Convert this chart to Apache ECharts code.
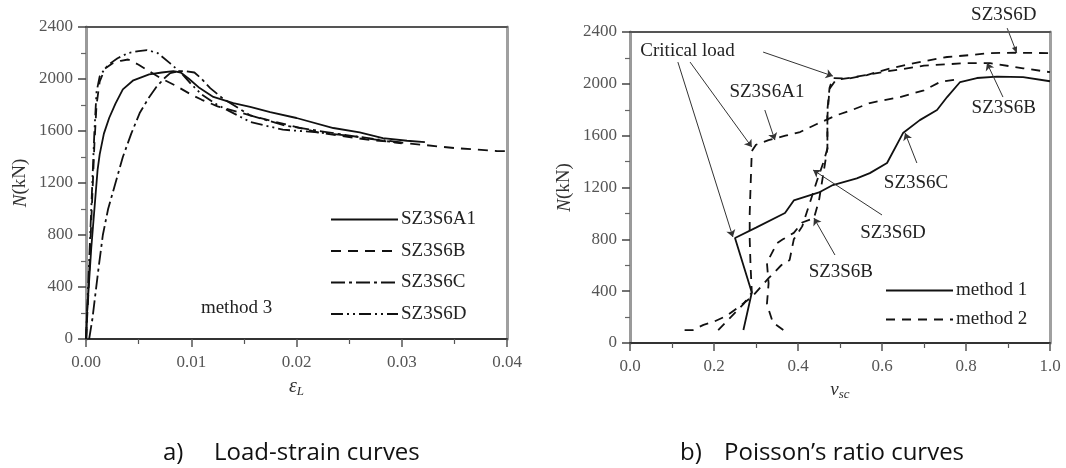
<!DOCTYPE html>
<html><head><meta charset="utf-8">
<script src="https://cdn.jsdelivr.net/npm/echarts@6/dist/echarts.min.js"></script>
<style>html,body{margin:0;padding:0;background:#fff}#c{width:1066px;height:468px}</style>
</head><body><div id="c"></div>
<script>
// ---- (a) Load-strain curves ----
const strainA1 = [0,0.0001,0.0003,0.0005,0.0007,0.0009,0.0011,0.0013,0.0017,0.0022,0.0028,0.0035,0.0045,0.006,0.0072,0.0083,0.009,0.0098,0.0108,0.0121,0.014,0.0156,0.0175,0.02,0.0235,0.026,0.0282,0.0305,0.0322];
const loadA1   = [0,200,450,700,900,1100,1300,1420,1580,1700,1810,1920,1990,2035,2050,2060,2050,2000,1930,1862,1815,1785,1746,1700,1623,1590,1546,1525,1515];
const strainB = [0,0.0002,0.0004,0.0006,0.0008,0.001,0.0013,0.0018,0.0025,0.0033,0.004,0.005,0.006,0.007,0.0085,0.01,0.011,0.0125,0.0156,0.019,0.022,0.027,0.03,0.035,0.039,0.04];
const loadB   = [0,300,700,1100,1500,1800,1980,2080,2120,2140,2150,2110,2060,2010,1950,1880,1840,1790,1720,1650,1590,1530,1510,1469,1446,1445];
const strainC = [0.0003,0.0006,0.0009,0.0012,0.0016,0.0021,0.0028,0.0035,0.0043,0.0051,0.006,0.0067,0.0075,0.008,0.0088,0.0095,0.0103,0.011,0.0118,0.013,0.0156,0.019,0.023,0.027,0.03];
const loadC   = [0,150,350,550,800,1000,1200,1400,1580,1738,1860,1940,2010,2045,2060,2060,2050,2000,1930,1850,1720,1640,1590,1540,1505];
const strainD = [0,0.0002,0.0004,0.0006,0.0008,0.001,0.0013,0.0018,0.0023,0.003,0.004,0.005,0.0058,0.0068,0.008,0.009,0.01,0.011,0.0125,0.0156,0.0187,0.022,0.026,0.03];
const loadD   = [0,400,800,1200,1600,1900,2020,2080,2120,2160,2200,2215,2222,2200,2120,2050,1960,1880,1800,1670,1610,1590,1555,1510];

// ---- (b) Poisson's ratio curves ----
const vM1 = [0.27,0.29,0.25,0.30,0.369,0.39,0.452,0.483,0.54,0.571,0.612,0.65,0.69,0.731,0.755,0.786,0.826,0.874,0.936,1.0];
const nM1 = [100,390,810,890,1003,1100,1165,1219,1270,1311,1389,1620,1720,1798,1898,2014,2045,2055,2052,2020];
const vA1m2 = [0.21,0.24,0.27,0.29,0.287,0.285,0.285,0.287,0.29,0.30,0.33,0.37,0.405,0.445,0.493,0.53,0.571,0.643,0.70,0.738,0.78];
const nA1m2 = [100,200,300,390,600,800,1000,1200,1480,1530,1566,1600,1628,1690,1759,1800,1852,1898,1950,2014,2035];
const vBm2 = [0.365,0.34,0.326,0.33,0.326,0.35,0.364,0.39,0.41,0.438,0.45,0.46,0.47,0.47,0.475,0.49,0.53,0.6,0.7,0.8,0.857,0.936,1.0];
const nBm2 = [100,160,300,460,620,770,800,850,930,964,1100,1300,1500,1750,1960,2030,2050,2090,2140,2160,2160,2120,2090];
const vDm2 = [0.13,0.15,0.175,0.2,0.23,0.26,0.29,0.33,0.36,0.38,0.39,0.41,0.43,0.445,0.46,0.47,0.47,0.475,0.483,0.52,0.564,0.62,0.7,0.755,0.81,0.857,0.92,1.0];
const nDm2 = [100,100,140,165,210,280,355,500,600,640,800,900,1100,1250,1390,1500,1800,1967,2045,2040,2068,2120,2175,2207,2222,2237,2240,2237];

// annotations (data coordinates of panel b)
const labelsB = [
  {text:'Critical load', at:[0.137,2253]},
  {text:'SZ3S6A1', at:[0.326,1937]},
  {text:'SZ3S6B', at:[0.89,1813]},
  {text:'SZ3S6C', at:[0.681,1235]},
  {text:'SZ3S6D', at:[0.626,849]},
  {text:'SZ3S6B', at:[0.502,548]}
];
const arrowsB = [
  [[0.114,2168],[0.245,818]],
  [[0.143,2168],[0.29,1512]],
  [[0.317,2245],[0.483,2060]],
  [[0.321,1798],[0.345,1566]],
  [[0.888,1898],[0.85,2160]],
  [[0.683,1389],[0.655,1620]],
  [[0.60,988],[0.436,1335]],
  [[0.488,679],[0.438,964]]
];
// label + arrow above the plot top (drawn as graphic, positioned through convertToPixel)
const topLabelB = {text:'SZ3S6D', at:[0.89,2531], from:[0.898,2430], to:[0.921,2237]};

const zip = (a,b)=>a.map((v,i)=>[v,b[i]]);
const SERIF = 'Liberation Serif';
const CAP = '24px "Open Sans", sans-serif';
const tickLblY = {fontFamily:SERIF, fontSize:17, color:'#555', margin:13, formatter:v=>String(v)};

function yAx(grid){
  return {type:'value', gridIndex:grid, min:0, max:2400, interval:400, position:'left',
    axisLine:{show:true, onZero:false, lineStyle:{color:'#9a9a9a', width:3}},
    axisTick:{show:true, length:8, lineStyle:{color:'#444', width:1.5}},
    minorTick:{show:true, splitNumber:2, length:5, lineStyle:{color:'#666', width:1.2}},
    splitLine:{show:false}, axisLabel:tickLblY,
    name:'{i|N}(kN)', nameLocation:'middle', nameGap:56,
    nameTextStyle:{fontFamily:SERIF, fontSize:19, color:'#333', rich:{i:{fontFamily:SERIF, fontSize:19, fontStyle:'italic', color:'#333'}}}
  };
}
function frameX(grid){return {type:'value', gridIndex:grid, position:'top', min:0, max:1,
  axisLine:{show:true, onZero:false, lineStyle:{color:'#555', width:2}}, axisTick:{show:false}, axisLabel:{show:false}, splitLine:{show:false}};}
function frameY(grid){return {type:'value', gridIndex:grid, position:'right', min:0, max:1,
  axisLine:{show:true, onZero:false, lineStyle:{color:'#a0a0a0', width:3}}, axisTick:{show:false}, axisLabel:{show:false}, splitLine:{show:false}};}
function xAx(grid, min, max, interval, dec, nameStr, rich, gap){
  return {type:'value', gridIndex:grid, min, max, interval, position:'bottom',
    axisLine:{show:true, onZero:false, lineStyle:{color:'#333', width:2}},
    axisTick:{show:true, length:8, lineStyle:{color:'#555', width:1.5}},
    minorTick:{show:true, splitNumber:2, length:5, lineStyle:{color:'#555', width:1.2}},
    splitLine:{show:false},
    axisLabel:{fontFamily:SERIF, fontSize:17, color:'#555', margin:15, formatter:v=>v.toFixed(dec), showMaxLabel:true},
    name:nameStr, nameLocation:'middle', nameGap:gap, nameTextStyle:{rich}
  };
}

function line(name, data, xi, yi, type, extra){
  return Object.assign({type:'line', name, data, xAxisIndex:xi, yAxisIndex:yi, symbol:'none', showSymbol:false,
    smooth:false, animation:false, silent:true,
    lineStyle:{color:'#111', width:1.8, type:type}, itemStyle:{color:'#111'}}, extra||{});
}
const legendCommon = {orient:'vertical', itemWidth:67, itemHeight:12, padding:0, selectedMode:false,
  itemStyle:{opacity:0, borderWidth:0}, textStyle:{fontFamily:SERIF, fontSize:19, color:'#222', padding:[0,0,0,-2]}};

const chart = echarts.init(document.getElementById('c'), null, {renderer:'canvas'});
chart.setOption({
  animation:false,
  backgroundColor:'#fff',
  grid:[
    {left:86, top:27, width:421, height:312},
    {left:630, top:32, width:420, height:311}
  ],
  xAxis:[
    xAx(0, 0, 0.04, 0.01, 2, '{e|ε}{s|L}', {e:{fontFamily:SERIF, fontSize:20, fontStyle:'italic', color:'#333'}, s:{fontFamily:SERIF, fontSize:13, fontStyle:'italic', color:'#333', padding:[10,0,0,0]}}, 36),
    frameX(0),
    xAx(1, 0, 1, 0.2, 1, '{v|v}{s|sc}', {v:{fontFamily:SERIF, fontSize:19, fontStyle:'italic', color:'#333'}, s:{fontFamily:SERIF, fontSize:13, fontStyle:'italic', color:'#333', padding:[10,0,0,0]}}, 35),
    frameX(1)
  ],
  yAxis:[yAx(0), frameY(0), yAx(1), frameY(1)],
  legend:[
    Object.assign({data:['SZ3S6A1','SZ3S6B','SZ3S6C','SZ3S6D'], left:330, top:210, itemGap:12.5}, legendCommon),
    Object.assign({data:['method 1','method 2'], left:885, top:281, itemGap:10}, legendCommon)
  ],
  series:[
    line('SZ3S6A1', zip(strainA1, loadA1), 0, 0, 'solid', {
      markPoint:{silent:true, symbol:'rect', symbolSize:1, itemStyle:{color:'rgba(0,0,0,0)'},
        label:{show:true, position:'inside', formatter:p=>p.name, fontFamily:SERIF, fontSize:19, color:'#222'},
        data:[{name:'method 3', coord:[0.0143,238]}]}
    }),
    line('SZ3S6B', zip(strainB, loadB), 0, 0, [10,7]),
    line('SZ3S6C', zip(strainC, loadC), 0, 0, [14,4,3,4]),
    line('SZ3S6D', zip(strainD, loadD), 0, 0, [12,4,2,4,2,4]),
    line('method 1', zip(vM1, nM1), 2, 2, 'solid', {
      markPoint:{silent:true, symbol:'rect', symbolSize:1, itemStyle:{color:'rgba(0,0,0,0)'},
        label:{show:true, position:'inside', formatter:p=>p.name, fontFamily:SERIF, fontSize:19, color:'#222'},
        data:labelsB.map(l=>({name:l.text, coord:l.at}))},
      markLine:{silent:true, symbol:['none','arrow'], symbolSize:7, label:{show:false},
        lineStyle:{color:'#333', width:1, type:'solid'},
        data:arrowsB.map(a=>[{coord:a[0]},{coord:a[1]}])}
    }),
    line('method 2', zip(vA1m2, nA1m2), 2, 2, [9,7]),
    line('method 2', zip(vBm2, nBm2), 2, 2, [9,7]),
    line('method 2', zip(vDm2, nDm2), 2, 2, [9,7])
  ],
  graphic:[
    {id:'capA1', type:'text', left:163, top:441, style:{text:'a)', font:CAP, fill:'#111'}},
    {id:'capA2', type:'text', left:214, top:441, style:{text:'Load-strain curves', font:CAP, fill:'#111'}},
    {id:'capB1', type:'text', left:680, top:441, style:{text:'b)', font:CAP, fill:'#111'}},
    {id:'capB2', type:'text', left:724, top:441, style:{text:'Poisson\u2019s ratio curves', font:CAP, fill:'#111'}}
  ]
});
// top annotation of panel b, placed through the axis scales
const pT = chart.convertToPixel({gridIndex:1}, topLabelB.at);
const pF = chart.convertToPixel({gridIndex:1}, topLabelB.from);
const pE = chart.convertToPixel({gridIndex:1}, topLabelB.to);
const ang = Math.atan2(pE[1]-pF[1], pE[0]-pF[0]);
const ah = 7;
chart.setOption({graphic:[
  {id:'topTxt', type:'text', x:pT[0], y:pT[1], style:{text:topLabelB.text, font:'19px "Liberation Serif"', fill:'#222', align:'center', verticalAlign:'middle'}},
  {id:'topLine', type:'line', shape:{x1:pF[0], y1:pF[1], x2:pE[0], y2:pE[1]}, style:{stroke:'#333', lineWidth:1}},
  {id:'topHead', type:'polygon', shape:{points:[[pE[0],pE[1]],[pE[0]-ah*Math.cos(ang-0.4), pE[1]-ah*Math.sin(ang-0.4)],[pE[0]-ah*Math.cos(ang+0.4), pE[1]-ah*Math.sin(ang+0.4)]]}, style:{fill:'#333'}}
]});
</script></body></html>
